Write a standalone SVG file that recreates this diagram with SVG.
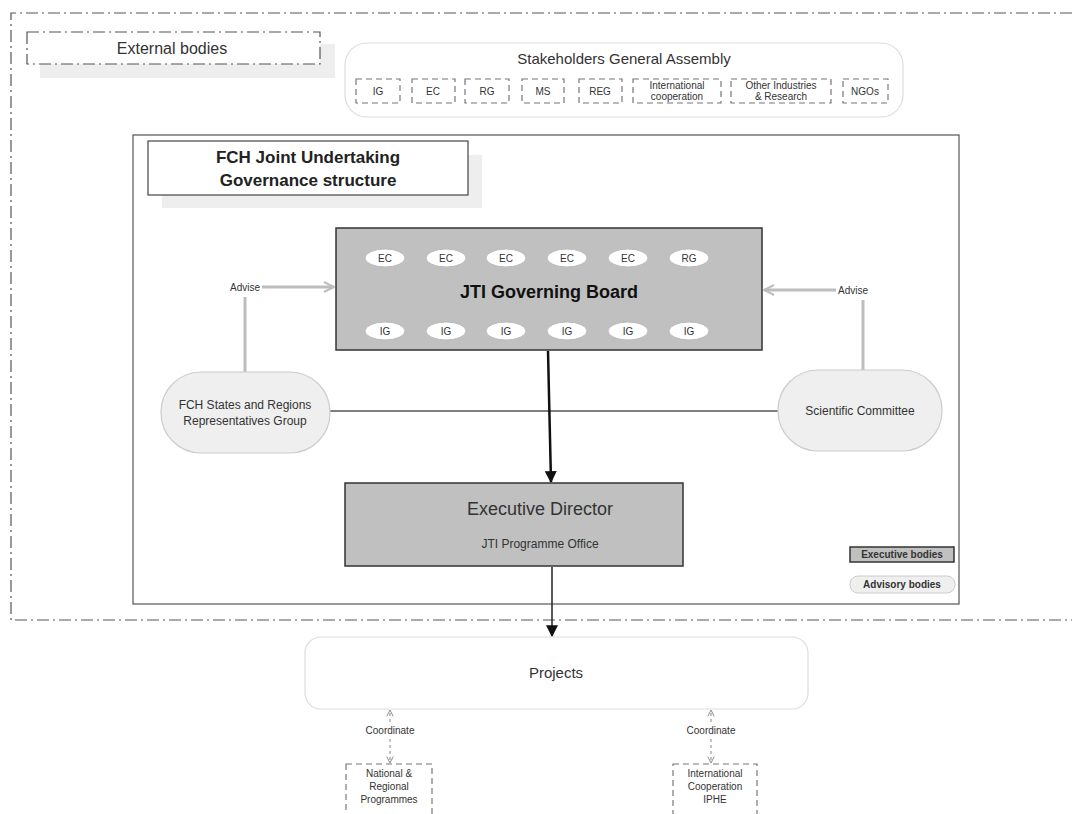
<svg xmlns="http://www.w3.org/2000/svg" width="1072" height="814" viewBox="0 0 1072 814">
<style>
text{font-family:"Liberation Sans",Arial,sans-serif;fill:#333;text-anchor:middle}
.dashdot{fill:none;stroke:#555;stroke-width:1.2;stroke-dasharray:12,4,2,4}
.dsub{fill:#fff;stroke:#777;stroke-width:1.2;stroke-dasharray:6,4}
.oval{fill:#fff;stroke:#bbb;stroke-width:1}
.exec{fill:#c0c0c0;stroke:#333;stroke-width:1.5}
.adv{fill:#efefef;stroke:#ccc;stroke-width:1.2}
.s{font-size:10px}
.g{stroke:#bdbdbd;stroke-width:3;fill:none}
</style>
<defs>
<marker id="openG" viewBox="0 0 12 12" refX="11" refY="6" markerWidth="12" markerHeight="12" markerUnits="userSpaceOnUse" orient="auto"><path d="M1,1 L11,6 L1,11" fill="none" stroke="#bdbdbd" stroke-width="2"/></marker>
<marker id="blk" viewBox="0 0 10 10" refX="9" refY="5" markerWidth="12" markerHeight="14" markerUnits="userSpaceOnUse" orient="auto"><path d="M0,0 L10,5 L0,10 z" fill="#111"/></marker>
<marker id="openS" viewBox="0 0 10 10" refX="9" refY="5" markerWidth="8" markerHeight="8" markerUnits="userSpaceOnUse" orient="auto"><path d="M1,1 L9,5 L1,9" fill="none" stroke="#888" stroke-width="1.2"/></marker>
</defs>
<rect width="1072" height="814" fill="#fff"/>

<path class="dashdot" d="M1072,13 H11 V620 H1072"/>

<g id="external-bodies">
<rect x="40" y="44" width="295" height="34" fill="#eee"/>
<rect class="dashdot" x="27" y="32" width="293" height="32" style="fill:#fff"/>
<text x="172" y="54" font-size="16">External bodies</text>
</g>

<g id="stakeholders">
<rect x="345" y="43" width="558" height="74" rx="22" fill="#fff" stroke="#ddd" stroke-width="1.2"/>
<text x="624" y="64" font-size="15">Stakeholders General Assembly</text>
<rect class="dsub" x="356" y="79" width="44" height="24"/><text class="s" x="378" y="95">IG</text>
<rect class="dsub" x="412" y="79" width="43" height="24"/><text class="s" x="433" y="95">EC</text>
<rect class="dsub" x="465" y="79" width="44" height="24"/><text class="s" x="487" y="95">RG</text>
<rect class="dsub" x="522" y="79" width="42" height="24"/><text class="s" x="543" y="95">MS</text>
<rect class="dsub" x="579" y="79" width="43" height="24"/><text class="s" x="600" y="95">REG</text>
<rect class="dsub" x="633" y="79" width="88" height="24"/><text class="s" x="677" y="89">International</text><text class="s" x="677" y="100">cooperation</text>
<rect class="dsub" x="731" y="79" width="100" height="24"/><text class="s" x="781" y="89">Other Industries</text><text class="s" x="781" y="100">&amp; Research</text>
<rect class="dsub" x="843" y="79" width="45" height="24"/><text class="s" x="865" y="95">NGOs</text>
</g>

<g id="fch-ju">
<rect x="133" y="135" width="826" height="469" fill="#fff" stroke="#555" stroke-width="1.2"/>
<rect x="162" y="155" width="320" height="53" fill="#eee"/>
<rect x="148" y="141" width="320" height="54" fill="#fff" stroke="#444" stroke-width="1.2"/>
<text x="308" y="163" font-size="17" font-weight="bold" style="fill:#222">FCH Joint Undertaking</text>
<text x="308" y="186" font-size="17" font-weight="bold" style="fill:#222">Governance structure</text>
</g>

<g id="connectors">
<path class="g" d="M262,287 H334" marker-end="url(#openG)"/>
<path class="g" d="M245,297 V372"/>
<path class="g" d="M836,290 H764" marker-end="url(#openG)"/>
<path class="g" d="M863,300 V371"/>
<path d="M330,411 H779" stroke="#555" stroke-width="1.5" fill="none"/>
<path d="M548,351 L551,482" stroke="#111" stroke-width="2.5" fill="none" marker-end="url(#blk)"/>
<path d="M552,567 V636" stroke="#222" stroke-width="1.5" fill="none" marker-end="url(#blk)"/>
<path d="M390,722 V710" stroke="#888" stroke-width="1" stroke-dasharray="3,3" fill="none" marker-end="url(#openS)"/>
<path d="M390,739 V763" stroke="#888" stroke-width="1" stroke-dasharray="3,3" fill="none" marker-end="url(#openS)"/>
<path d="M711,722 V710" stroke="#888" stroke-width="1" stroke-dasharray="3,3" fill="none" marker-end="url(#openS)"/>
<path d="M711,739 V763" stroke="#888" stroke-width="1" stroke-dasharray="3,3" fill="none" marker-end="url(#openS)"/>
<text x="245" y="291" font-size="10">Advise</text>
<text x="853" y="294" font-size="10">Advise</text>
<text x="390" y="734" font-size="10">Coordinate</text>
<text x="711" y="734" font-size="10">Coordinate</text>
</g>

<g id="governing-board">
<rect class="exec" x="336" y="228" width="426" height="122"/>
<ellipse class="oval" cx="385" cy="258" rx="20" ry="9"/><text class="s" x="385" y="262">EC</text>
<ellipse class="oval" cx="446" cy="258" rx="20" ry="9"/><text class="s" x="446" y="262">EC</text>
<ellipse class="oval" cx="506" cy="258" rx="20" ry="9"/><text class="s" x="506" y="262">EC</text>
<ellipse class="oval" cx="567" cy="258" rx="20" ry="9"/><text class="s" x="567" y="262">EC</text>
<ellipse class="oval" cx="628" cy="258" rx="20" ry="9"/><text class="s" x="628" y="262">EC</text>
<ellipse class="oval" cx="689" cy="258" rx="20" ry="9"/><text class="s" x="689" y="262">RG</text>
<text x="549" y="298" font-size="18" font-weight="bold" style="fill:#111">JTI Governing Board</text>
<ellipse class="oval" cx="385" cy="331" rx="20" ry="9"/><text class="s" x="385" y="335">IG</text>
<ellipse class="oval" cx="446" cy="331" rx="20" ry="9"/><text class="s" x="446" y="335">IG</text>
<ellipse class="oval" cx="506" cy="331" rx="20" ry="9"/><text class="s" x="506" y="335">IG</text>
<ellipse class="oval" cx="567" cy="331" rx="20" ry="9"/><text class="s" x="567" y="335">IG</text>
<ellipse class="oval" cx="628" cy="331" rx="20" ry="9"/><text class="s" x="628" y="335">IG</text>
<ellipse class="oval" cx="689" cy="331" rx="20" ry="9"/><text class="s" x="689" y="335">IG</text>
</g>

<g id="states-regions">
<rect class="adv" x="161" y="372" width="169" height="81" rx="40"/>
<text x="245" y="409" font-size="12">FCH States and Regions</text>
<text x="245" y="425" font-size="12">Representatives Group</text>
</g>

<g id="scientific-committee">
<rect class="adv" x="778" y="370" width="164" height="81" rx="40"/>
<text x="860" y="415" font-size="12">Scientific Committee</text>
</g>

<g id="executive-director">
<rect class="exec" x="345" y="483" width="338" height="83"/>
<text x="540" y="515" font-size="18">Executive Director</text>
<text x="540" y="548" font-size="12">JTI Programme Office</text>
</g>

<g id="legend">
<rect x="850" y="547" width="104" height="15" fill="#c0c0c0" stroke="#333" stroke-width="1.5"/>
<text x="902" y="558" font-size="10" font-weight="bold">Executive bodies</text>
<rect x="850" y="576" width="105" height="17" rx="8" fill="#efefef" stroke="#ccc"/>
<text x="902" y="588" font-size="10" font-weight="bold">Advisory bodies</text>
</g>

<g id="projects">
<rect x="305" y="637" width="503" height="72" rx="16" fill="#fff" stroke="#ddd" stroke-width="1.2"/>
<text x="556" y="678" font-size="15">Projects</text>
</g>

<g id="national-programmes">
<rect class="dsub" x="346" y="764" width="86" height="52"/>
<text class="s" x="389" y="777">National &amp;</text>
<text class="s" x="389" y="790">Regional</text>
<text class="s" x="389" y="803">Programmes</text>
</g>

<g id="international-cooperation">
<rect class="dsub" x="673" y="764" width="84" height="52"/>
<text class="s" x="715" y="777">International</text>
<text class="s" x="715" y="790">Cooperation</text>
<text class="s" x="715" y="803">IPHE</text>
</g>
</svg>
